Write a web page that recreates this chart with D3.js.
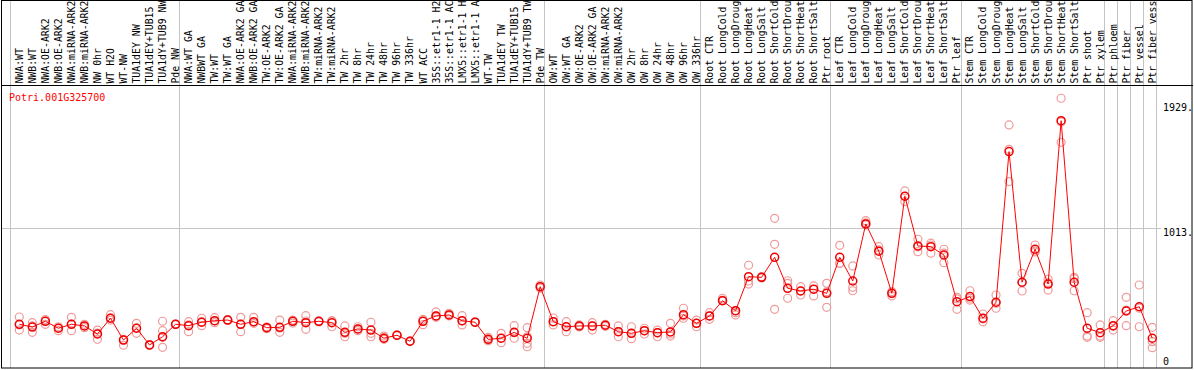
<!DOCTYPE html>
<html><head><meta charset="utf-8">
<script src="https://cdn.jsdelivr.net/npm/d3@7"></script>
<style>body{margin:0;background:#fff}svg{display:block}text{font-family:"DejaVu Sans Mono",monospace;font-size:10px}</style>
</head><body><svg id="c" width="1194" height="370"></svg>
<script>
const geneId = "Potri.001G325700";
const categories = [
"NWA:WT","NWB:WT","NWA:OE-ARK2","NWB:OE-ARK2","NWA:miRNA-ARK2","NWB:miRNA-ARK2","NW 0hr","WT H2O","WT-NW","TUA1dEY NW","TUA1dEY+TUB15 NW","TUA1dY+TUB9 NW","Pde NW",
"NWA:WT GA","NWBWT GA","TW:WT","TW:WT GA","NWA:OE-ARK2 GA","NWB:OE-ARK2 GA","TW:OE-ARK2","TW:OE-ARK2 GA","NWA:miRNA-ARK2","NWB:miRNA-ARK2","TW:miRNA-ARK2","TW:miRNA-ARK2","TW 2hr","TW 8hr","TW 24hr","TW 48hr","TW 96hr","TW 336hr","WT ACC","35S::etr1-1 H2O","35S::etr1-1 ACC","LMX5::etr1-1 H2O","LMX5::etr1-1 ACC","WT-TW","TUA1dEY TW","TUA1dEY+TUB15 TW","TUA1dY+TUB9 TW","Pde TW",
"OW:WT","OW:WT GA","OW:OE-ARK2","OW:OE-ARK2 GA","OW:miRNA-ARK2","OW:miRNA-ARK2","OW 2hr","OW 8hr","OW 24hr","OW 48hr","OW 96hr","OW 336hr",
"Root CTR","Root LongCold","Root LongDrought","Root LongHeat","Root LongSalt","Root ShortCold","Root ShortDrought","Root ShortHeat","Root ShortSalt","Ptr root",
"Leaf CTR","Leaf LongCold","Leaf LongDrought","Leaf LongHeat","Leaf LongSalt","Leaf ShortCold","Leaf ShortDrought","Leaf ShortHeat","Leaf ShortSalt","Ptr leaf",
"Stem CTR","Stem LongCold","Stem LongDrought","Stem LongHeat","Stem LongSalt","Stem ShortCold","Stem ShortDrought","Stem ShortHeat","Stem ShortSalt","Ptr shoot","Ptr xylem","Ptr phloem","Ptr fiber","Ptr vessel","Ptr fiber vessel"];
const labelMaxChars = 14;
const groupStarts = [0,13,41,53,63,73,84,85,86,87,88];
const means = [312,292,334,283,312,300,241,356,197,283,161,221,312,
302,327,338,343,312,331,287,290,334,324,334,324,253,278,270,210,232,188,334,373,380,338,327,202,210,253,210,587,
331,294,300,300,305,258,246,265,251,256,382,319,
373,484,411,660,655,801,575,555,568,538,
801,628,1045,846,538,1247,884,879,818,477,
514,356,473,1573,619,860,606,1799,619,283,251,302,409,440,210];
const replicates = [
[365,270,307],[324,253,300],[347,312,336],[294,265,285],[363,265,314],[312,287,300],[270,202,248],[382,343,358],[202,159,197],[319,246,285],[161,157,164],[334,265,217,144],[312,314,310],
[331,258,307],[356,302,329],[360,324,336],[346,341,343],[363,258,314],[363,319,329],[294,280,287],[343,253,285],[343,321,336],[375,275,336],[336,329,334],[294,338,336],[300,221,246],[294,265,278],[327,221,246],[226,202,212],[232,234,229],[188,190,186],[309,348,336],[402,363,373],[392,373,380],[375,307,336],[327,329,325],[217,192,202],[246,178,210],[302,210,251],[287,221,173,148],[599,575,587],
[358,307,331],[331,258,294],[300,307,292],[324,270,300],[305,312,297],[300,221,258],[294,207,246],[283,241,265],[270,221,251],[319,226,241],[429,356,373],[343,294,319],
[397,348,373],[502,484,489],[380,411,397],[743,628,606],[655,660,650],[1086,896,421],[630,611,502],[587,526,555],[592,519,568],[611,436,550],
[889,758,756],[738,582,557],[1069,1052,1037],[879,818,855],[519,538,551],[1286,1208,1247],[933,842,877],[904,831,891],[860,762,832],[509,421,497],
[557,489,502],[387,331,351],[526,429,465],[1768,1590,1354],[684,555,617],[891,847,840],[641,562,614],[1963,1641,1790],[655,557,645],[397,226,217],[307,217,226],[338,270,297],[509,302,416],[599,294,429],[290,185,141]];
const tickValues = [1929, 1013, 0];
const tickLabels = ["1929.", "1013.", "0"];
const gridValues = [1013];

const svg = d3.select("#c");
const x = d3.scaleBand().domain(d3.range(categories.length)).range([10, 1156]).paddingInner(0).paddingOuter(0);
const bw = x.bandwidth();
const y = d3.scaleLinear().domain([0, 2026]).range([367, 89.6]);
const px = i => x(i) + bw * 0.715;

// gridlines
svg.append("g").selectAll("line").data(groupStarts).join("line")
  .attr("x1", d => (d < categories.length ? Math.round(x(d)) : Math.round(x.range()[1])) + 0.5)
  .attr("x2", d => (d < categories.length ? Math.round(x(d)) : Math.round(x.range()[1])) + 0.5)
  .attr("y1", 0).attr("y2", 368).attr("stroke", "#c4c4c4").attr("stroke-width", 1);
svg.append("g").selectAll("line").data(gridValues).join("line")
  .attr("x1", 1).attr("x2", 1161).attr("y1", d => Math.round(y(d)) + 0.5).attr("y2", d => Math.round(y(d)) + 0.5)
  .attr("stroke", "#c4c4c4");

// frame
svg.append("rect").attr("x", 1.5).attr("y", 0.5).attr("width", 1190.5).attr("height", 367.5)
  .attr("fill", "none").attr("stroke", "#000");
svg.append("line").attr("x1", 1).attr("x2", 1193).attr("y1", 85.5).attr("y2", 85.5).attr("stroke", "#000");

// category labels (the reference shows at most 14 characters)
svg.append("g").selectAll("text").data(categories).join("text")
  .attr("transform", (d, i) => `translate(${x(i) + 12.8},83.6) rotate(-90)`)
  .style("font-size", "9.85px")
  .attr("fill", "#000").text(d => d.slice(0, labelMaxChars).trimEnd());

// gene id
svg.append("text").attr("x", 9).attr("y", 101).attr("fill", "#f00").text(geneId);

// right axis labels
svg.append("g").selectAll("text").data(tickValues).join("text")
  .attr("x", 1163).attr("y", d => Math.min(y(d) + 7.8, 365))
  .attr("fill", "#000").text((d, i) => tickLabels[i]);

// replicates
const reps = [];
replicates.forEach((r, i) => r.forEach(v => reps.push({i, v})));
svg.append("g").selectAll("circle").data(reps).join("circle")
  .attr("cx", d => px(d.i)).attr("cy", d => y(d.v)).attr("r", 4)
  .attr("fill", "none").attr("stroke", "#ee9a9a").attr("stroke-width", 1.2);

// mean line
svg.append("path").datum(means)
  .attr("d", d3.line().x((d, i) => px(i)).y(d => y(d)))
  .attr("fill", "none").attr("stroke", "#f00").attr("stroke-width", 1);

svg.append("g").selectAll("circle").data(means).join("circle")
  .attr("cx", (d, i) => px(i)).attr("cy", d => y(d)).attr("r", 4)
  .attr("fill", "none").attr("stroke", "#e00").attr("stroke-width", 1.5);
</script></body></html>
